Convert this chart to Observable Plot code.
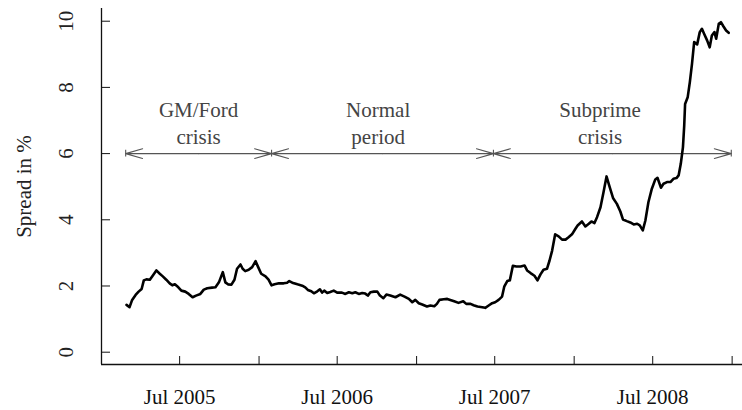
<!DOCTYPE html>
<html><head><meta charset="utf-8">
<script src="https://cdn.jsdelivr.net/npm/d3@7"></script>
<script src="https://cdn.jsdelivr.net/npm/@observablehq/plot@0.6"></script>
<style>
html,body{margin:0;padding:0;background:#fff;}
#chart svg{display:block;}
</style></head><body><div id="chart"></div>
<script>
const dates = [
"2005-02-28","2005-03-07","2005-03-13","2005-03-21","2005-03-28","2005-04-04","2005-04-09","2005-04-15","2005-04-23","2005-04-30",
"2005-05-08","2005-05-16","2005-05-23","2005-05-31","2005-06-08","2005-06-14","2005-06-20","2005-06-28","2005-07-05","2005-07-14",
"2005-07-22","2005-07-31","2005-08-08","2005-08-18","2005-08-26","2005-09-03","2005-09-14","2005-09-22","2005-09-30","2005-10-09",
"2005-10-15","2005-10-21","2005-10-29","2005-11-05","2005-11-11","2005-11-19","2005-11-24","2005-11-30","2005-12-08","2005-12-16",
"2005-12-24","2005-12-30","2006-01-06","2006-01-16","2006-01-23","2006-01-30","2006-02-06","2006-02-16","2006-02-27","2006-03-07",
"2006-03-12","2006-03-19","2006-03-31","2006-04-11","2006-04-18","2006-04-24","2006-05-02","2006-05-08","2006-05-16","2006-05-22",
"2006-05-27","2006-06-01","2006-06-08","2006-06-15","2006-06-23","2006-07-01","2006-07-12","2006-07-20","2006-07-28","2006-08-05",
"2006-08-12","2006-08-20","2006-08-28","2006-09-04","2006-09-10","2006-09-16","2006-09-24","2006-10-02","2006-10-08","2006-10-16",
"2006-10-23","2006-11-01","2006-11-13","2006-11-24","2006-12-04","2006-12-14","2006-12-22","2006-12-29","2007-01-06","2007-01-14",
"2007-01-25","2007-02-02","2007-02-11","2007-02-17","2007-02-23","2007-03-05","2007-03-13","2007-03-20","2007-03-29","2007-04-08",
"2007-04-19","2007-04-26","2007-05-06","2007-05-13","2007-05-22","2007-06-02","2007-06-09","2007-06-17","2007-06-25","2007-07-02",
"2007-07-10","2007-07-18","2007-07-23","2007-07-30","2007-08-05","2007-08-12","2007-08-20","2007-08-30","2007-09-08","2007-09-14",
"2007-09-22","2007-10-01","2007-10-08","2007-10-15","2007-10-22","2007-10-30","2007-11-05","2007-11-11","2007-11-18","2007-11-26",
"2007-12-04","2007-12-12","2007-12-19","2007-12-27","2008-01-04","2008-01-09","2008-01-19","2008-01-27","2008-02-04","2008-02-10",
"2008-02-17","2008-02-23","2008-03-02","2008-03-09","2008-03-16","2008-03-23","2008-03-31","2008-04-09","2008-04-17","2008-04-23",
"2008-05-02","2008-05-10","2008-05-18","2008-05-26","2008-06-01","2008-06-08","2008-06-14","2008-06-21","2008-06-29","2008-07-07",
"2008-07-12","2008-07-20","2008-07-26","2008-08-03","2008-08-11","2008-08-18","2008-08-25","2008-08-30","2008-09-04","2008-09-09",
"2008-09-12","2008-09-14","2008-09-20","2008-09-25","2008-09-30","2008-10-05","2008-10-12","2008-10-18","2008-10-23","2008-10-28",
"2008-11-04","2008-11-10","2008-11-15","2008-11-21","2008-11-25","2008-12-01","2008-12-06","2008-12-12","2008-12-18","2008-12-24"
];
const spreads = [
1.43,1.36,1.58,1.73,1.83,1.91,2.17,2.20,2.19,2.32,
2.47,2.37,2.29,2.19,2.08,2.02,2.05,1.96,1.86,1.83,
1.76,1.66,1.71,1.76,1.89,1.93,1.95,1.96,2.11,2.42,
2.11,2.05,2.04,2.19,2.52,2.65,2.52,2.45,2.49,2.57,
2.75,2.57,2.37,2.29,2.19,2.02,2.05,2.08,2.08,2.10,
2.15,2.10,2.05,2.01,1.96,1.88,1.84,1.78,1.84,1.90,
1.80,1.86,1.79,1.82,1.86,1.80,1.80,1.76,1.81,1.78,
1.81,1.76,1.79,1.77,1.71,1.81,1.83,1.83,1.71,1.63,
1.74,1.71,1.66,1.74,1.68,1.61,1.51,1.58,1.48,1.44,
1.38,1.41,1.39,1.46,1.58,1.60,1.61,1.58,1.54,1.49,
1.54,1.46,1.46,1.42,1.38,1.36,1.34,1.41,1.48,1.51,
1.58,1.68,1.98,2.15,2.17,2.61,2.59,2.59,2.62,2.47,
2.39,2.31,2.17,2.35,2.49,2.52,2.77,3.07,3.56,3.50,
3.40,3.40,3.47,3.56,3.73,3.83,3.95,3.80,3.88,3.95,
3.90,4.08,4.38,4.83,5.31,5.00,4.66,4.48,4.25,4.01,
3.96,3.92,3.86,3.88,3.83,3.68,3.98,4.53,4.94,5.22,
5.27,4.97,5.09,5.14,5.14,5.24,5.26,5.34,5.69,6.19,
6.85,7.50,7.70,8.16,8.71,9.37,9.30,9.67,9.77,9.62,
9.42,9.21,9.57,9.67,9.47,9.92,9.97,9.84,9.72,9.65
];
const yTicks = [0, 2, 4, 6, 8, 10];
const xTickDates = ["2005-07-01","2006-01-01","2006-07-01","2007-01-01","2007-07-01","2008-01-01","2008-07-01","2009-01-01"];
const xLabelDates = ["2005-07-01","2006-07-01","2007-07-01","2008-07-01"];
const periodBreaks = ["2005-02-26","2006-01-30","2007-06-28","2008-12-30"];
const periodLabels = ["GM/Ford\ncrisis","Normal\nperiod","Subprime\ncrisis"];
const periodLabelDates = ["2005-08-14","2006-10-04","2008-03-01"];
const arrowLevel = 6;
const labelLevel = 6.95;
const xDomain = ["2005-01-01","2009-01-25"];
const yDomain = [-0.372, 10.384];
const yTitle = "Spread in %";

const parse = d3.utcParse("%Y-%m-%d");
const series = dates.map((d, i) => ({date: parse(d), value: spreads[i]}));
const breaks = periodBreaks.map(parse);
const arrows = [];
for (let i = 0; i < breaks.length - 1; i++) {
  const mid = new Date((+breaks[i] + +breaks[i + 1]) / 2);
  arrows.push({x1: mid, x2: breaks[i]}, {x1: mid, x2: breaks[i + 1]});
}
const labels = periodLabels.map((t, i) => ({text: t, date: parse(periodLabelDates[i])}));
const fmt = d3.utcFormat("%b %Y");
const serif = "'Liberation Serif', 'Times New Roman', serif";

const chart = Plot.plot({
  width: 742, height: 410,
  marginLeft: 101, marginRight: 0, marginTop: 8, marginBottom: 46,
  style: {fontFamily: serif, fontSize: "21px", background: "white", color: "#222", overflow: "visible"},
  x: {type: "utc", domain: xDomain.map(parse), label: null},
  y: {domain: yDomain, label: null},
  marks: [
    Plot.ruleX([parse(xDomain[0])], {stroke: "#111", strokeWidth: 1.3}),
    Plot.ruleY([yDomain[0]], {stroke: "#111", strokeWidth: 1.3}),
    Plot.axisY({ticks: yTicks, tickSize: -9, tickFormat: () => "", label: null, stroke: "#111"}),
    Plot.text(yTicks, {y: d => d, frameAnchor: "left", dx: -35, rotate: -90, text: d => String(d), textAnchor: "middle", lineAnchor: "middle", fontSize: 21, fill: "#222"}),
    Plot.text([yTitle], {frameAnchor: "left", dx: -77, rotate: -90, text: d => d, textAnchor: "middle", fontSize: 21, fill: "#222"}),
    Plot.axisX({ticks: xTickDates.map(parse), tickSize: -8, tickFormat: () => "", label: null, stroke: "#111"}),
    Plot.axisX({ticks: xLabelDates.map(parse), tickSize: 0, tickPadding: 25, tickFormat: fmt, label: null, fontSize: 21, fill: "#111"}),
    Plot.arrow(arrows, {x1: "x1", x2: "x2", y1: arrowLevel, y2: arrowLevel, stroke: "#555", strokeWidth: 1.1, headLength: 24, headAngle: 32}),
    Plot.ruleX(breaks, {x: d => d, y1: arrowLevel - 0.1, y2: arrowLevel + 0.1, stroke: "#555", strokeWidth: 1.1}),
    Plot.text(labels, {x: "date", y: labelLevel, text: "text", fontSize: 21, lineHeight: 1.27, fill: "#444"}),
    Plot.line(series, {x: "date", y: "value", stroke: "#000", strokeWidth: 2.6, strokeLinejoin: "round", strokeLinecap: "round"})
  ]
});
document.getElementById("chart").appendChild(chart);
</script>
</body></html>
